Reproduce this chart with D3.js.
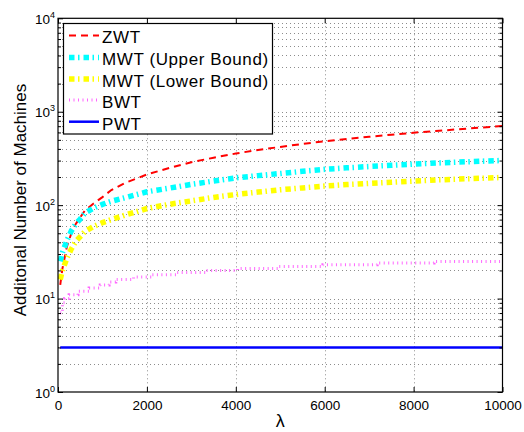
<!DOCTYPE html>
<html>
<head>
<meta charset="utf-8">
<script src="https://cdn.jsdelivr.net/npm/d3@7"></script>
<style>
  html, body { margin: 0; padding: 0; background: #fff; }
  svg { display: block; font-family: "Liberation Sans", Arial, Helvetica, sans-serif; }
</style>
</head>
<body>
<svg id="chart" width="524" height="432"></svg>
<script>
// ---- data ----
const lambda = [50,100,200,300,400,500,600,800,1000,1200,1500,2000,2500,3000,3500,4000,4500,5000,5500,6000,6500,7000,7500,8000,8500,9000,9500,10000];
const zwt      = [14,21,36,50,63,74,87,104,122,145,172,213,250,288,322,357,390,420,452,483,511,539,567,596,622,648,675,705];
const mwtUpper = [25,31,42,53,63,71,82,93,102,110,120,139,152,167,181,196,207,218,230,242,251,259,267,275,282,289,295,301];
const mwtLower = [16,20,27,34,41,46,52,59,65,70,78,92,102,111,121,130,138,146,153,160,166,171,176,181,186,190,194,198];
const bwtLambda = [50,100,150,250,450,700,950,1150,1300,1700,2100,2660,3330,4040,4950,5960,7180,8460,10000];
const bwt       = [7,9,10,11,12,13,14,15,16,17,18,19,20,21,22,23,24,25,25];
const pwtLambda = [50,10000];
const pwt       = [3,3];

const seriesNames = ["ZWT","MWT (Upper Bound)","MWT (Lower Bound)","BWT","PWT"];
const xTicks = [0,2000,4000,6000,8000,10000];
const yDecades = [1,10,100,1000,10000];
const xDomain = [0,10000];
const yDomain = [1,10000];
const xLabel = "\u03bb";
const yLabel = "Additonal Number of Machines";

// ---- layout ----
const L = 58, R = 502.5, T = 18.3, B = 392;
const svg = d3.select("#chart");
const x = d3.scaleLinear().domain(xDomain).range([L, R]);
const y = d3.scaleLog().domain(yDomain).range([B, T]);

// grid
const grid = svg.append("g").attr("stroke", "#000").attr("stroke-opacity", 0.45)
  .attr("stroke-width", 1).attr("stroke-dasharray", "1,3").attr("fill", "none");
const yAll = y.ticks();
grid.selectAll("line.gy").data(yAll.filter(v => v > yDomain[0] && v < yDomain[1]))
  .enter().append("line")
  .attr("x1", L).attr("x2", R)
  .attr("y1", d => Math.round(y(d)) + 0.5).attr("y2", d => Math.round(y(d)) + 0.5);
grid.selectAll("line.gx").data(xTicks.filter(v => v > xDomain[0] && v < xDomain[1]))
  .enter().append("line")
  .attr("y1", T).attr("y2", B)
  .attr("x1", d => Math.round(x(d)) + 0.5).attr("x2", d => Math.round(x(d)) + 0.5);

// series styles
const styles = [
  { color: "#ff0000", width: 2,   dash: "7,5" },
  { color: "#00ffff", width: 5.5, dash: "5.5,3.5,1.5,4" },
  { color: "#ffff00", width: 5.5, dash: "5.5,3.5,1.5,4" },
  { color: "#ff66ff", width: 3,   dash: "1,3.5" },
  { color: "#0000ff", width: 2.5, dash: null }
];

const seriesData = [
  { xs: lambda, ys: zwt, curve: d3.curveLinear },
  { xs: lambda, ys: mwtUpper, curve: d3.curveLinear },
  { xs: lambda, ys: mwtLower, curve: d3.curveLinear },
  { xs: bwtLambda, ys: bwt, curve: d3.curveStepAfter },
  { xs: pwtLambda, ys: pwt, curve: d3.curveLinear }
];

svg.append("defs").append("clipPath").attr("id", "clip")
  .append("rect").attr("x", L).attr("y", T).attr("width", R - L).attr("height", B - T);

const plot = svg.append("g").attr("clip-path", "url(#clip)");
seriesData.forEach((s, i) => {
  const pts = s.xs.map((v, j) => [v, s.ys[j]]);
  const line = d3.line().x(d => x(d[0])).y(d => y(d[1])).curve(s.curve);
  plot.append("path").attr("d", line(pts)).attr("fill", "none")
    .attr("stroke", styles[i].color).attr("stroke-width", styles[i].width)
    .attr("stroke-dasharray", styles[i].dash).attr("stroke-linecap", "butt");
});

// axes (ticks inward)
const xAxisB = d3.axisBottom(x).tickValues(xTicks).tickSizeInner(-5).tickSizeOuter(0).tickPadding(8).tickFormat(d3.format("d"));
const gxb = svg.append("g").attr("transform", `translate(0,${B})`).call(xAxisB);
const xAxisT = d3.axisTop(x).tickValues(xTicks).tickSizeInner(-5).tickSizeOuter(0).tickFormat("");
const gxt = svg.append("g").attr("transform", `translate(0,${T})`).call(xAxisT);

const yMinor = yAll.filter(v => !yDecades.includes(v));
const yAxisL = d3.axisLeft(y).tickValues(yDecades).tickSizeInner(-5).tickSizeOuter(0).tickPadding(4).tickFormat(() => "");
const gyl = svg.append("g").attr("transform", `translate(${L},0)`).call(yAxisL);
const yAxisLm = d3.axisLeft(y).tickValues(yMinor).tickSizeInner(-3).tickSizeOuter(0).tickFormat("");
const gylm = svg.append("g").attr("transform", `translate(${L},0)`).call(yAxisLm);
const yAxisR = d3.axisRight(y).tickValues(yDecades).tickSizeInner(-5).tickSizeOuter(0).tickFormat("");
const gyr = svg.append("g").attr("transform", `translate(${R},0)`).call(yAxisR);
const yAxisRm = d3.axisRight(y).tickValues(yMinor).tickSizeInner(-3).tickSizeOuter(0).tickFormat("");
const gyrm = svg.append("g").attr("transform", `translate(${R},0)`).call(yAxisRm);

[gxb, gxt, gyl, gylm, gyr, gyrm].forEach(g => {
  g.select(".domain").remove();
  g.selectAll(".tick line").attr("stroke", "#000").attr("stroke-width", 1);
});
gxb.selectAll(".tick text").attr("font-size", 13.5).attr("fill", "#000")
  .attr("font-family", "'Liberation Sans', Arial, sans-serif");

// y labels as 10^k
gyl.selectAll(".tick text").each(function(d) {
  const t = d3.select(this).text(null).attr("font-size", 13.5).attr("fill", "#000")
    .attr("font-family", "'Liberation Sans', Arial, sans-serif").attr("dy", null)
    .attr("x", -3).attr("y", 5).attr("text-anchor", "end");
  t.append("tspan").text("10");
  t.append("tspan").attr("font-size", 9).attr("dy", -6).text(Math.round(Math.log10(d)));
});

// box
svg.append("rect").attr("x", L).attr("y", T).attr("width", R - L).attr("height", B - T)
  .attr("fill", "none").attr("stroke", "#000").attr("stroke-width", 1.2);

// axis labels
svg.append("text").attr("x", (L + R) / 2).attr("y", 427).attr("text-anchor", "middle")
  .attr("font-size", 18).attr("fill", "#000").text(xLabel);
svg.append("text").attr("transform", `translate(26,200) rotate(-90)`).attr("text-anchor", "middle")
  .attr("font-size", 17).attr("fill", "#000").text(yLabel);

// legend
const leg = svg.append("g");
leg.append("rect").attr("x", 63.5).attr("y", 23.5).attr("width", 209).attr("height", 110.5)
  .attr("fill", "#fff").attr("stroke", "#000").attr("stroke-width", 1.2);
const rowY = [35.5, 57.5, 79, 100, 121.7];
seriesNames.forEach((name, i) => {
  leg.append("line").attr("x1", 69).attr("x2", 99).attr("y1", rowY[i]).attr("y2", rowY[i])
    .attr("stroke", styles[i].color).attr("stroke-width", styles[i].width)
    .attr("stroke-dasharray", styles[i].dash);
  leg.append("text").attr("x", 102).attr("y", rowY[i] + 7.8).attr("font-size", 17)
    .attr("letter-spacing", 0.6).attr("fill", "#000").text(name);
});
</script>
</body>
</html>
